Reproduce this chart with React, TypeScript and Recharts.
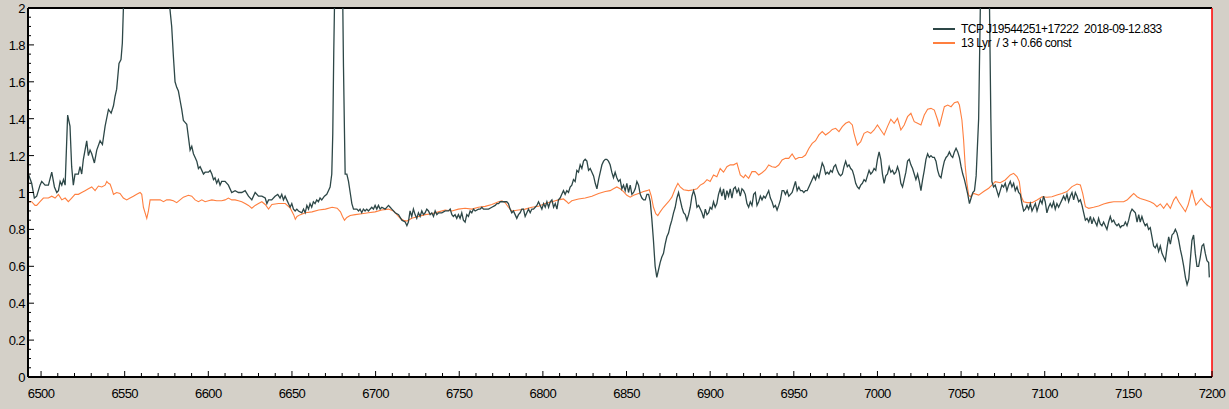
import { LineChart, Line, XAxis, YAxis, ReferenceLine } from "recharts"

// wavelength (A), relative flux
const targetSpectrum: [number, number][] = [
  [6492.4, 1.10], [6494.4, 1.05], [6496.0, 0.97], [6497.4, 0.98], [6499.4, 1.04], [6500.4, 1.06],
  [6502.4, 1.04], [6504.4, 1.04], [6506.4, 1.11], [6508.0, 1.03], [6509.4, 1.00], [6510.4, 1.01],
  [6511.4, 1.06], [6512.4, 1.04], [6513.4, 1.07], [6514.4, 1.04], [6515.9, 1.42], [6517.3, 1.36],
  [6518.3, 1.14], [6519.3, 1.04], [6520.3, 1.10], [6522.3, 1.10], [6523.3, 1.14], [6524.3, 1.10],
  [6525.3, 1.18], [6527.3, 1.28], [6528.3, 1.20], [6529.3, 1.23], [6530.3, 1.21], [6531.9, 1.16],
  [6533.3, 1.23], [6535.3, 1.28], [6536.7, 1.26], [6538.3, 1.36], [6540.3, 1.45], [6541.9, 1.43],
  [6543.3, 1.47], [6544.2, 1.52], [6545.2, 1.56], [6546.6, 1.70], [6547.8, 1.72], [6548.6, 1.81],
  [6549.2, 1.99], [6552.0, 2.6], [6556.0, 3.3], [6560.0, 3.7], [6565.0, 3.7], [6570.0, 3.3],
  [6574.0, 2.6], [6577.1, 1.99], [6578.1, 1.90], [6579.1, 1.74], [6580.1, 1.60], [6581.1, 1.57],
  [6582.1, 1.55], [6583.1, 1.50], [6584.1, 1.45], [6585.1, 1.39], [6586.1, 1.38], [6587.1, 1.37],
  [6588.1, 1.30], [6589.1, 1.23], [6590.1, 1.25], [6591.1, 1.21], [6592.1, 1.19], [6593.1, 1.17],
  [6594.1, 1.13], [6595.1, 1.14], [6596.1, 1.12], [6597.1, 1.10], [6598.1, 1.11], [6600.1, 1.11],
  [6601.1, 1.12], [6602.1, 1.10], [6603.1, 1.07], [6604.0, 1.08], [6605.0, 1.05], [6606.0, 1.07],
  [6607.0, 1.04], [6608.0, 1.06], [6610.0, 1.06], [6612.0, 1.04], [6614.0, 1.00], [6616.0, 1.01],
  [6618.0, 1.00], [6620.0, 1.00], [6622.0, 1.01], [6624.0, 0.98], [6626.0, 0.96], [6628.0, 1.00],
  [6630.0, 0.98], [6632.0, 0.98], [6634.0, 0.97], [6635.0, 0.94], [6636.0, 0.96], [6637.9, 0.96],
  [6639.9, 0.98], [6641.5, 0.99], [6642.9, 0.97], [6643.9, 0.99], [6644.9, 0.96], [6645.9, 0.98],
  [6646.9, 0.96], [6647.9, 0.94], [6648.9, 0.92], [6649.9, 0.94], [6650.9, 0.91], [6651.9, 0.90],
  [6652.9, 0.91], [6653.9, 0.90], [6655.9, 0.89], [6656.9, 0.91], [6657.9, 0.89], [6658.9, 0.93],
  [6659.9, 0.91], [6660.8, 0.94], [6661.8, 0.92], [6662.8, 0.95], [6663.8, 0.94], [6664.8, 0.96],
  [6665.8, 0.95], [6666.8, 0.97], [6667.8, 0.96], [6669.4, 0.98], [6670.8, 0.99], [6671.8, 1.01],
  [6672.8, 1.03], [6673.8, 1.10], [6674.4, 1.32], [6675.0, 1.77], [6675.4, 2.0], [6676.5, 2.6],
  [6678.0, 2.9], [6679.5, 2.6], [6680.4, 2.0], [6680.8, 1.68], [6681.4, 1.32], [6681.8, 1.10],
  [6682.8, 1.10], [6683.8, 1.06], [6684.8, 1.00], [6685.8, 0.94], [6686.8, 0.91], [6687.8, 0.91],
  [6688.8, 0.91], [6689.8, 0.90], [6690.7, 0.91], [6691.7, 0.89], [6692.7, 0.91], [6693.7, 0.90],
  [6694.7, 0.91], [6695.7, 0.90], [6697.7, 0.92], [6698.7, 0.91], [6699.7, 0.93], [6700.7, 0.91],
  [6701.7, 0.93], [6702.7, 0.91], [6703.7, 0.92], [6705.7, 0.91], [6707.7, 0.93], [6708.7, 0.92],
  [6709.7, 0.91], [6711.7, 0.89], [6713.7, 0.88], [6715.7, 0.85], [6717.7, 0.84], [6718.7, 0.82],
  [6719.6, 0.84], [6720.6, 0.90], [6721.6, 0.87], [6722.6, 0.91], [6723.6, 0.88], [6724.6, 0.86],
  [6725.6, 0.89], [6726.6, 0.87], [6727.6, 0.90], [6728.6, 0.88], [6729.6, 0.89], [6730.6, 0.91],
  [6731.6, 0.90], [6732.6, 0.88], [6733.6, 0.89], [6734.6, 0.87], [6735.6, 0.90], [6736.6, 0.88],
  [6737.6, 0.89], [6739.6, 0.89], [6741.6, 0.90], [6743.6, 0.90], [6744.6, 0.91], [6745.6, 0.88],
  [6746.5, 0.87], [6747.5, 0.88], [6748.5, 0.86], [6749.5, 0.88], [6750.5, 0.86], [6751.5, 0.89],
  [6752.5, 0.85], [6753.5, 0.84], [6754.5, 0.88], [6755.5, 0.87], [6756.5, 0.90], [6757.5, 0.89],
  [6758.5, 0.91], [6759.5, 0.90], [6761.5, 0.91], [6762.5, 0.91], [6763.5, 0.92], [6764.5, 0.91],
  [6765.5, 0.91], [6767.5, 0.91], [6769.5, 0.92], [6771.5, 0.93], [6772.5, 0.94], [6773.5, 0.94],
  [6774.5, 0.95], [6775.5, 0.95], [6777.5, 0.95], [6778.4, 0.95], [6779.4, 0.94], [6780.4, 0.91],
  [6781.4, 0.89], [6782.4, 0.90], [6783.4, 0.88], [6784.4, 0.86], [6785.4, 0.88], [6786.4, 0.89],
  [6787.4, 0.91], [6788.4, 0.91], [6789.4, 0.87], [6790.4, 0.89], [6791.4, 0.91], [6792.4, 0.89],
  [6793.4, 0.91], [6794.4, 0.91], [6795.4, 0.92], [6796.4, 0.93], [6797.4, 0.95], [6798.4, 0.93],
  [6799.4, 0.91], [6800.4, 0.94], [6801.4, 0.92], [6802.4, 0.95], [6803.4, 0.92], [6804.4, 0.95],
  [6805.4, 0.96], [6806.4, 0.92], [6807.4, 0.94], [6808.4, 0.91], [6809.3, 0.96], [6810.3, 0.97],
  [6811.3, 0.99], [6812.3, 1.01], [6813.3, 0.99], [6814.3, 1.01], [6815.3, 1.00], [6816.3, 1.03],
  [6817.3, 1.04], [6818.3, 1.07], [6819.3, 1.06], [6820.3, 1.12], [6821.3, 1.11], [6822.3, 1.15],
  [6823.3, 1.13], [6824.3, 1.17], [6825.3, 1.18], [6826.3, 1.17], [6827.3, 1.12], [6828.3, 1.13],
  [6829.3, 1.11], [6830.3, 1.09], [6831.3, 1.05], [6832.3, 1.02], [6833.3, 1.07], [6834.3, 1.11],
  [6835.3, 1.15], [6836.3, 1.17], [6837.3, 1.18], [6838.2, 1.18], [6839.2, 1.17], [6840.2, 1.15],
  [6841.2, 1.11], [6842.2, 1.08], [6843.2, 1.11], [6844.2, 1.08], [6845.2, 1.06], [6846.2, 1.07],
  [6847.2, 1.02], [6848.2, 1.04], [6849.2, 1.01], [6850.2, 1.05], [6851.2, 1.00], [6852.2, 1.04],
  [6853.2, 0.99], [6854.2, 1.00], [6855.2, 1.02], [6856.2, 1.06], [6857.2, 1.04], [6858.2, 0.99],
  [6859.2, 0.97], [6860.2, 0.96], [6861.2, 0.96], [6862.2, 0.99], [6863.2, 0.99], [6864.2, 0.95],
  [6865.1, 0.86], [6866.1, 0.74], [6867.1, 0.60], [6868.1, 0.54], [6869.1, 0.58], [6870.1, 0.62],
  [6871.1, 0.65], [6872.1, 0.67], [6873.1, 0.72], [6874.1, 0.76], [6875.1, 0.78], [6876.1, 0.82],
  [6877.1, 0.85], [6878.1, 0.89], [6879.1, 0.92], [6880.1, 0.97], [6881.1, 1.00], [6882.1, 0.96],
  [6883.1, 0.92], [6884.1, 0.89], [6885.1, 0.88], [6886.1, 0.85], [6887.1, 0.88], [6888.1, 0.92],
  [6889.1, 0.98], [6890.1, 1.01], [6891.1, 0.98], [6892.1, 0.92], [6893.1, 0.93], [6894.1, 0.91],
  [6895.1, 0.89], [6896.1, 0.86], [6897.1, 0.91], [6898.1, 0.88], [6899.1, 0.89], [6900.0, 0.92],
  [6901.0, 0.91], [6902.0, 0.95], [6903.0, 0.92], [6904.0, 0.94], [6905.0, 0.99], [6906.0, 1.02],
  [6907.0, 0.98], [6908.0, 1.02], [6909.0, 0.96], [6910.0, 1.01], [6911.0, 0.98], [6912.0, 1.02],
  [6913.0, 0.97], [6914.0, 1.02], [6915.0, 1.03], [6916.0, 1.00], [6917.0, 1.02], [6918.0, 0.98],
  [6919.0, 1.02], [6920.0, 1.01], [6921.0, 0.99], [6922.0, 0.94], [6923.0, 0.92], [6924.0, 0.95],
  [6925.0, 0.93], [6926.0, 0.99], [6927.0, 1.00], [6928.0, 0.93], [6929.0, 0.95], [6930.0, 0.98],
  [6931.0, 0.96], [6932.0, 0.98], [6933.0, 0.97], [6934.0, 0.99], [6935.0, 1.01], [6936.0, 0.97],
  [6937.0, 0.95], [6938.0, 0.92], [6939.0, 0.93], [6940.0, 0.905], [6941.0, 0.93], [6942.0, 0.96],
  [6943.0, 1.01], [6944.0, 1.01], [6945.0, 0.99], [6946.0, 1.01], [6947.0, 0.98], [6948.0, 0.99],
  [6949.0, 1.00], [6950.0, 1.03], [6951.0, 1.06], [6952.0, 1.01], [6953.0, 1.03], [6954.0, 1.01],
  [6955.0, 1.01], [6956.0, 1.00], [6957.0, 1.01], [6958.0, 1.01], [6959.0, 1.03], [6960.0, 1.05],
  [6961.0, 1.07], [6962.0, 1.09], [6963.0, 1.07], [6964.0, 1.10], [6965.0, 1.08], [6966.0, 1.12],
  [6967.0, 1.16], [6968.0, 1.14], [6969.0, 1.10], [6970.0, 1.11], [6971.0, 1.10], [6972.0, 1.12],
  [6973.0, 1.11], [6974.0, 1.14], [6975.0, 1.15], [6976.0, 1.12], [6977.0, 1.10], [6978.0, 1.09],
  [6979.0, 1.10], [6980.0, 1.14], [6981.0, 1.17], [6982.0, 1.14], [6983.0, 1.15], [6984.0, 1.13],
  [6985.0, 1.12], [6986.0, 1.09], [6987.0, 1.05], [6988.0, 1.03], [6989.0, 1.02], [6990.0, 1.04],
  [6991.0, 1.05], [6992.0, 1.07], [6993.0, 1.06], [6994.0, 1.09], [6995.0, 1.12], [6996.0, 1.10],
  [6997.0, 1.11], [6998.0, 1.13], [6999.0, 1.12], [7000.0, 1.18], [7001.0, 1.22], [7002.0, 1.18],
  [7003.0, 1.10], [7004.0, 1.05], [7005.0, 1.09], [7006.0, 1.10], [7007.0, 1.14], [7008.0, 1.11],
  [7009.0, 1.12], [7010.0, 1.10], [7011.0, 1.11], [7012.0, 1.14], [7013.0, 1.11], [7014.0, 1.05],
  [7015.0, 1.03], [7016.0, 1.07], [7017.0, 1.11], [7018.0, 1.17], [7019.0, 1.18], [7020.0, 1.15],
  [7021.0, 1.13], [7022.0, 1.10], [7023.0, 1.07], [7024.0, 1.10], [7025.0, 1.06], [7026.0, 1.01],
  [7027.0, 1.07], [7028.0, 1.12], [7029.0, 1.18], [7030.0, 1.21], [7031.0, 1.19], [7032.0, 1.20],
  [7033.0, 1.19], [7034.0, 1.19], [7035.0, 1.17], [7036.0, 1.12], [7037.0, 1.09], [7038.0, 1.08],
  [7039.0, 1.13], [7040.0, 1.17], [7041.0, 1.19], [7042.0, 1.20], [7043.0, 1.22], [7044.0, 1.20],
  [7045.0, 1.19], [7046.0, 1.22], [7047.0, 1.24], [7048.0, 1.22], [7049.0, 1.19], [7050.0, 1.14],
  [7051.0, 1.10], [7052.0, 1.07], [7053.0, 1.03], [7054.0, 0.99], [7055.0, 0.94], [7056.0, 0.97],
  [7057.0, 1.00], [7058.0, 1.01], [7059.0, 1.09], [7060.5, 1.40], [7061.5, 2.0], [7063.0, 2.6],
  [7064.5, 2.7], [7066.0, 2.4], [7067.0, 2.0], [7067.8, 1.40], [7068.4, 1.06], [7069.4, 1.03],
  [7070.4, 1.04], [7071.4, 1.01], [7072.4, 0.98], [7073.4, 1.01], [7074.4, 1.04], [7075.4, 1.03],
  [7076.4, 1.05], [7077.4, 1.01], [7078.4, 1.04], [7079.4, 1.06], [7080.4, 1.03], [7081.4, 1.05],
  [7082.4, 1.01], [7083.4, 1.03], [7084.4, 1.00], [7085.4, 0.99], [7086.4, 0.94], [7087.4, 0.90],
  [7088.4, 0.91], [7089.4, 0.93], [7090.4, 0.91], [7091.4, 0.94], [7092.4, 0.90], [7093.4, 0.92],
  [7094.4, 0.94], [7095.4, 0.90], [7096.4, 0.93], [7097.4, 0.96], [7098.4, 0.94], [7099.3, 0.98],
  [7100.3, 0.95], [7101.3, 0.89], [7102.3, 0.92], [7103.3, 0.94], [7104.3, 0.92], [7105.3, 0.95],
  [7106.3, 0.91], [7107.3, 0.94], [7108.3, 0.92], [7109.3, 0.94], [7110.3, 0.96], [7111.3, 0.98],
  [7112.3, 0.96], [7113.3, 0.99], [7114.3, 0.95], [7115.3, 0.98], [7116.3, 1.00], [7117.3, 0.96],
  [7118.3, 1.00], [7119.3, 0.98], [7120.3, 0.95], [7121.3, 0.96], [7122.3, 0.93], [7123.3, 0.89],
  [7124.3, 0.85], [7125.3, 0.86], [7126.3, 0.84], [7127.3, 0.87], [7128.2, 0.83], [7129.2, 0.86],
  [7130.2, 0.84], [7131.2, 0.82], [7132.2, 0.86], [7133.2, 0.83], [7134.2, 0.82], [7135.2, 0.84],
  [7136.2, 0.82], [7137.2, 0.80], [7138.2, 0.84], [7139.2, 0.87], [7140.2, 0.84], [7141.2, 0.85],
  [7142.2, 0.83], [7143.2, 0.82], [7144.2, 0.83], [7145.2, 0.81], [7146.2, 0.82], [7147.2, 0.82],
  [7148.2, 0.84], [7149.2, 0.82], [7150.2, 0.85], [7151.2, 0.89], [7152.2, 0.91], [7153.2, 0.90],
  [7154.2, 0.89], [7155.2, 0.84], [7156.2, 0.88], [7157.1, 0.84], [7158.1, 0.87], [7159.1, 0.84],
  [7160.1, 0.82], [7161.1, 0.83], [7162.1, 0.80], [7163.1, 0.81], [7164.1, 0.76], [7165.1, 0.71],
  [7166.1, 0.70], [7167.1, 0.72], [7168.1, 0.68], [7169.1, 0.71], [7170.1, 0.67], [7171.1, 0.65],
  [7172.1, 0.63], [7173.1, 0.70], [7174.1, 0.76], [7175.1, 0.72], [7176.1, 0.77], [7177.1, 0.78],
  [7178.1, 0.80], [7179.1, 0.78], [7180.1, 0.74], [7181.1, 0.69], [7182.1, 0.65], [7183.1, 0.60],
  [7184.1, 0.54], [7185.1, 0.50], [7186.1, 0.53], [7187.0, 0.63], [7188.0, 0.74], [7189.0, 0.77],
  [7190.0, 0.67], [7191.0, 0.60], [7192.0, 0.60], [7193.0, 0.65], [7194.0, 0.71], [7195.0, 0.72],
  [7196.0, 0.67], [7197.0, 0.63], [7198.0, 0.62], [7198.4, 0.54],
]

const referenceSpectrum: [number, number][] = [
  [6492.3, 0.95], [6494.4, 0.95], [6496.4, 0.93], [6497.4, 0.93], [6499.4, 0.95], [6501.4, 0.97],
  [6504.4, 0.97], [6506.4, 0.98], [6508.4, 0.97], [6510.4, 0.99], [6512.4, 0.96], [6514.4, 0.97],
  [6516.3, 0.95], [6518.3, 0.97], [6520.3, 0.99], [6522.3, 0.99], [6524.3, 1.00], [6526.3, 1.01],
  [6528.3, 1.02], [6530.3, 1.03], [6532.3, 1.01], [6534.3, 1.035], [6536.3, 1.03], [6538.3, 1.04],
  [6539.3, 1.06], [6540.3, 1.05], [6541.3, 1.045], [6542.3, 1.02], [6543.3, 0.99], [6545.2, 1.00],
  [6547.2, 0.995], [6549.2, 0.97], [6551.2, 0.96], [6553.2, 0.97], [6555.2, 0.98], [6557.2, 0.99],
  [6559.2, 1.00], [6560.2, 0.99], [6561.2, 0.92], [6562.2, 0.89], [6563.2, 0.86], [6564.2, 0.90],
  [6565.2, 0.96], [6567.2, 0.96], [6569.2, 0.96], [6571.2, 0.96], [6573.2, 0.95], [6575.1, 0.96],
  [6577.1, 0.96], [6579.1, 0.955], [6581.1, 0.945], [6583.1, 0.96], [6585.1, 0.975], [6588.1, 0.985],
  [6590.1, 0.98], [6592.1, 0.96], [6594.1, 0.95], [6596.1, 0.96], [6598.1, 0.95], [6600.1, 0.955],
  [6602.1, 0.96], [6605.0, 0.955], [6608.0, 0.955], [6610.0, 0.96], [6612.0, 0.97], [6614.0, 0.96],
  [6616.0, 0.96], [6618.0, 0.955], [6620.0, 0.95], [6622.0, 0.94], [6624.0, 0.93], [6626.0, 0.915],
  [6628.0, 0.93], [6630.0, 0.94], [6632.0, 0.95], [6634.0, 0.935], [6636.0, 0.91], [6638.0, 0.935],
  [6642.0, 0.94], [6646.0, 0.94], [6649.0, 0.915], [6651.0, 0.88], [6652.0, 0.855], [6653.0, 0.87],
  [6655.0, 0.88], [6658.0, 0.89], [6662.0, 0.895], [6666.0, 0.905], [6670.0, 0.91], [6674.0, 0.92],
  [6677.0, 0.915], [6679.0, 0.895], [6680.2, 0.87], [6681.4, 0.85], [6682.8, 0.865], [6684.8, 0.875],
  [6687.8, 0.88], [6691.7, 0.885], [6695.7, 0.89], [6699.7, 0.895], [6703.7, 0.905], [6707.7, 0.91],
  [6710.7, 0.90], [6712.7, 0.88], [6714.7, 0.86], [6716.7, 0.85], [6718.7, 0.845], [6721.6, 0.86],
  [6725.6, 0.87], [6729.6, 0.88], [6733.6, 0.885], [6737.6, 0.895], [6741.6, 0.905], [6745.6, 0.90],
  [6749.5, 0.91], [6753.5, 0.915], [6757.5, 0.91], [6761.5, 0.92], [6765.5, 0.925], [6769.5, 0.935],
  [6773.5, 0.95], [6775.5, 0.955], [6777.5, 0.945], [6779.4, 0.92], [6781.4, 0.90], [6785.4, 0.905],
  [6789.4, 0.91], [6793.4, 0.92], [6797.4, 0.925], [6801.4, 0.94], [6805.4, 0.95], [6809.3, 0.96],
  [6812.3, 0.965], [6814.3, 0.95], [6815.3, 0.94], [6817.3, 0.955], [6821.3, 0.965], [6825.3, 0.97],
  [6829.3, 0.98], [6833.3, 0.995], [6837.3, 1.005], [6840.2, 1.01], [6842.2, 1.02], [6844.2, 1.03],
  [6846.2, 1.02], [6848.2, 1.005], [6850.2, 0.985], [6852.2, 0.975], [6854.2, 0.985], [6857.2, 0.995],
  [6860.2, 1.005], [6862.2, 1.01], [6863.6, 1.015], [6864.8, 0.98], [6866.1, 0.92], [6867.5, 0.885],
  [6868.7, 0.875], [6870.1, 0.895], [6872.1, 0.92], [6875.1, 0.95], [6877.1, 0.975], [6879.1, 1.02],
  [6880.7, 1.05], [6882.1, 1.03], [6884.1, 1.015], [6887.1, 1.01], [6890.1, 1.015], [6892.1, 1.02],
  [6894.1, 1.04], [6896.1, 1.05], [6898.1, 1.07], [6900.0, 1.06], [6902.0, 1.095], [6904.0, 1.085],
  [6906.0, 1.13], [6908.0, 1.11], [6910.0, 1.14], [6912.0, 1.15], [6914.0, 1.15], [6916.0, 1.16],
  [6918.0, 1.095], [6920.0, 1.08], [6921.0, 1.095], [6923.0, 1.077], [6925.0, 1.113], [6927.0, 1.113],
  [6929.0, 1.095], [6931.0, 1.107], [6933.0, 1.122], [6935.0, 1.149], [6937.0, 1.14], [6939.0, 1.136],
  [6941.0, 1.149], [6943.0, 1.176], [6945.0, 1.185], [6947.0, 1.185], [6949.0, 1.209], [6951.0, 1.18],
  [6953.0, 1.19], [6955.0, 1.19], [6957.0, 1.203], [6959.0, 1.239], [6961.0, 1.266], [6963.0, 1.281],
  [6965.0, 1.312], [6967.0, 1.33], [6969.0, 1.312], [6971.0, 1.325], [6973.0, 1.342], [6975.0, 1.348],
  [6977.0, 1.33], [6979.0, 1.357], [6981.0, 1.375], [6983.0, 1.384], [6985.0, 1.366], [6986.0, 1.321],
  [6988.0, 1.257], [6990.0, 1.276], [6992.0, 1.321], [6994.0, 1.33], [6996.0, 1.321], [6998.0, 1.339],
  [7000.0, 1.366], [7002.0, 1.339], [7004.0, 1.312], [7006.0, 1.357], [7008.0, 1.397], [7010.0, 1.375],
  [7012.0, 1.402], [7014.0, 1.339], [7016.0, 1.366], [7018.0, 1.411], [7020.0, 1.429], [7022.0, 1.384],
  [7024.0, 1.375], [7026.0, 1.366], [7028.0, 1.42], [7030.0, 1.451], [7032.0, 1.456], [7034.0, 1.447],
  [7036.0, 1.393], [7037.0, 1.357], [7038.0, 1.393], [7040.0, 1.465], [7042.0, 1.474], [7044.0, 1.465],
  [7046.0, 1.487], [7048.0, 1.492], [7049.0, 1.474], [7050.5, 1.393], [7051.5, 1.285], [7052.5, 1.14],
  [7053.5, 1.05], [7054.5, 0.986], [7055.5, 0.977], [7057.5, 0.995], [7060.5, 0.986], [7063.5, 1.005],
  [7066.5, 1.023], [7067.5, 1.032], [7070.4, 1.059], [7073.4, 1.053], [7076.4, 1.068], [7079.4, 1.095],
  [7081.4, 1.104], [7083.4, 1.086], [7084.8, 1.059], [7086.0, 0.977], [7087.4, 0.95], [7089.4, 0.945],
  [7092.4, 0.945], [7095.4, 0.959], [7098.4, 0.977], [7101.3, 0.974], [7104.3, 0.977], [7107.3, 0.986],
  [7110.3, 0.995], [7113.3, 1.005], [7116.3, 1.032], [7119.3, 1.046], [7121.3, 1.041], [7122.7, 0.995],
  [7124.3, 0.923], [7126.3, 0.914], [7129.2, 0.92], [7132.2, 0.927], [7135.2, 0.938], [7138.2, 0.945],
  [7141.2, 0.95], [7144.2, 0.95], [7147.2, 0.95], [7149.2, 0.959], [7151.2, 0.977], [7153.2, 0.995],
  [7155.2, 0.977], [7157.1, 0.968], [7160.1, 0.959], [7163.1, 0.95], [7165.1, 0.941], [7167.1, 0.923],
  [7169.1, 0.938], [7171.1, 0.914], [7173.1, 0.941], [7175.1, 0.914], [7177.1, 0.959], [7178.5, 0.977],
  [7180.1, 0.95], [7182.1, 0.923], [7184.1, 0.896], [7185.7, 0.932], [7187.0, 0.977], [7188.0, 1.014],
  [7189.0, 0.977], [7190.4, 0.932], [7192.0, 0.95], [7193.6, 0.968], [7195.0, 0.95], [7197.0, 0.932],
  [7199.0, 0.92], [7200.0, 0.91],
]

const seriesNames = ["TCP J19544251+17222  2018-09-12.833", "13 Lyr  / 3 + 0.66 const"]
const xLabelTicks = [6500, 6550, 6600, 6650, 6700, 6750, 6800, 6850, 6900, 6950, 7000, 7050, 7100, 7150, 7200]
const yLabelTicks = [0, 0.2, 0.4, 0.6, 0.8, 1, 1.2, 1.4, 1.6, 1.8, 2]

const DARK = "#2d4747"
const ORANGE = "#ff7f3f"
const W = 1229
const H = 409
const LEFT = 28
const TOP = 8
const RIGHT = 1212
const BOTTOM = 377
const FONT = '"Liberation Sans", Arial, sans-serif'

// minor ticks: every 10 A and every 0.05
const xTicks: number[] = []
for (let t = 6500; t <= 7200; t += 10) xTicks.push(t)
const yTicks: number[] = []
for (let i = 0; i <= 40; i++) yTicks.push(Math.round(i * 5) / 100)

const targetData = targetSpectrum.map(([w, v]) => ({ w, v }))
const referenceData = referenceSpectrum.map(([w, v]) => ({ w, v }))

function XTick(props: any) {
  const { x, payload } = props
  const major = xLabelTicks.includes(payload.value)
  return (
    <g>
      <line x1={x} x2={x} y1={BOTTOM} y2={BOTTOM - (major ? 6 : 4)} stroke="#000" />
      {major && (
        <text x={x} y={BOTTOM + 21} textAnchor="middle" fontSize={13} fontFamily={FONT} fill="#000" letterSpacing={-0.6}>
          {payload.value}
        </text>
      )}
    </g>
  )
}

function YTick(props: any) {
  const { y, payload } = props
  const major = yLabelTicks.includes(payload.value)
  return (
    <g>
      <line x1={LEFT} x2={LEFT + (major ? 6 : 3)} y1={y} y2={y} stroke="#000" />
      {major && (
        <text x={LEFT - 3} y={y + 5} textAnchor="end" fontSize={13} fontFamily={FONT} fill="#000" letterSpacing={-0.6}>
          {String(payload.value)}
        </text>
      )}
    </g>
  )
}

export default function App() {
  return (
    <div style={{ position: "absolute", left: 0, top: 0, width: W, height: H, background: "#d4d0c8", overflow: "hidden" }}>
      <div style={{ position: "absolute", left: LEFT, top: TOP, width: RIGHT - LEFT, height: BOTTOM - TOP, background: "#fff" }} />
      <div style={{ position: "absolute", left: 0, top: 0 }}>
        <LineChart width={W} height={H} data={targetData} margin={{ top: TOP, right: W - RIGHT, bottom: 0, left: 0 }}>
          <XAxis
            type="number"
            dataKey="w"
            domain={[6492.2, 7200]}
            allowDataOverflow
            ticks={xTicks}
            interval={0}
            tick={<XTick />}
            tickLine={false}
            axisLine={{ stroke: "#000", strokeWidth: 2 }}
            height={H - BOTTOM}
          />
          <YAxis
            type="number"
            domain={[0, 2]}
            allowDataOverflow
            ticks={yTicks}
            interval={0}
            tick={<YTick />}
            tickLine={false}
            axisLine={{ stroke: "#000", strokeWidth: 2 }}
            width={LEFT}
          />
          <ReferenceLine y={2} stroke="#000" strokeWidth={2} />
          <ReferenceLine x={7200} stroke="#ff0000" strokeWidth={1.5} />
          <Line
            data={referenceData}
            dataKey="v"
            type="linear"
            stroke={ORANGE}
            strokeWidth={1.1}
            dot={false}
            isAnimationActive={false}
          />
          <Line
            data={targetData}
            dataKey="v"
            type="linear"
            stroke={DARK}
            strokeWidth={1.3}
            dot={false}
            isAnimationActive={false}
          />
        </LineChart>
      </div>
      <div style={{ position: "absolute", left: 933, top: 22, fontFamily: FONT, fontSize: 12, color: "#000", lineHeight: "14px", letterSpacing: -0.5 }}>
        {seriesNames.map((name, i) => (
          <div key={name} style={{ display: "flex", alignItems: "center", height: 14 }}>
            <span style={{ display: "inline-block", width: 22, height: 2, background: i === 0 ? DARK : ORANGE, marginRight: 6 }} />
            <span style={{ whiteSpace: "pre" }}>{name}</span>
          </div>
        ))}
      </div>
    </div>
  )
}
